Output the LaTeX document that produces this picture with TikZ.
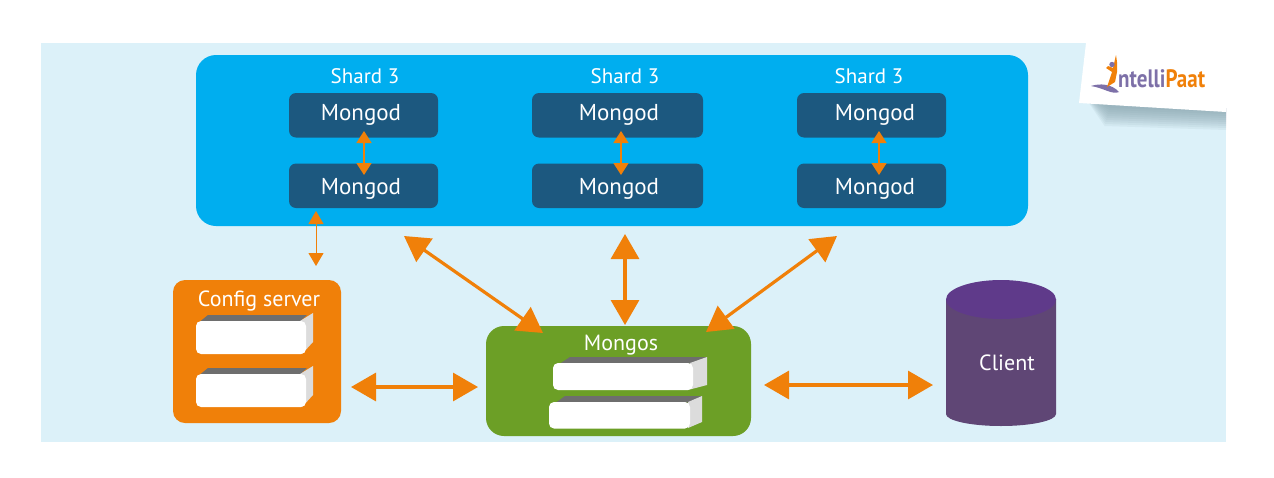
\documentclass[tikz,border=0pt]{standalone}
\usepackage{fontspec}
\setmainfont{PT Sans}
\usetikzlibrary{arrows.meta,calc}
\definecolor{bgc}{HTML}{DCF1F9}
\definecolor{shardc}{HTML}{00AEEF}
\definecolor{mongodc}{HTML}{1C587F}
\definecolor{orangec}{HTML}{F08009}
\definecolor{greenc}{HTML}{6C9F26}
\definecolor{bodyc}{HTML}{5F4675}
\definecolor{topc}{HTML}{5F3A8A}
\definecolor{logop}{HTML}{7D70A8}
\definecolor{slabtop}{HTML}{6E6E6E}
\definecolor{slabside}{HTML}{DCDCDC}
\definecolor{shadowc}{HTML}{7F9AA5}
\tikzset{
  panel/.style={inner sep=0pt,outer sep=0pt,anchor=north west,rounded corners=#1},
  dbbox/.style={panel=7pt,fill=mongodc,minimum height=44.5pt},
  lbl/.style={text=white,font=\fontsize{22}{24}\selectfont,inner sep=0pt},
  dblbl/.style={text=white,font=\fontsize{23}{25}\selectfont,inner sep=0pt},
  small arrow/.style={draw=orangec,line width=1.6pt,{Triangle[length=12pt,width=15pt]}-{Triangle[length=12pt,width=15pt]}},
  thin arrow/.style={draw=orangec,line width=1pt,{Triangle[length=13pt,width=15pt]}-{Triangle[length=13pt,width=15pt]}},
  big arrow/.style={draw=orangec,line width=3.2pt,{Triangle[length=25pt,width=28pt]}-{Triangle[length=25pt,width=28pt]}},
  stop/.style={fill=slabtop},
  sside/.style={fill=slabside}
}
\begin{document}
\begin{tikzpicture}[x=1pt,y=-1pt]
\useasboundingbox (0,0) rectangle (1274,477);
\fill[white] (0,0) rectangle (1274,477);
\fill[bgc] (41,43) rectangle (1226,442);
% logo card with soft shadow
\foreach \d in {2,4,...,20}{
  \fill[shadowc,opacity=0.1] (1086+\d*0.4,100) -- (1226,108) -- (1226,132-\d) -- (1104+\d*0.3,128-\d) -- cycle;
}
\fill[white] (1086,43) -- (1079,103) -- (1226,112) -- (1226,43) -- cycle;
\fill[logop] (1091,86) .. controls (1100,83) and (1112,84) .. (1119,92) .. controls (1112,95) and (1104,88) .. (1091,86) -- cycle;
\fill[orangec] (1116,55) -- (1117,62) -- (1117,72) -- (1115,82) -- (1107,87) -- (1110,78) -- (1112,72) -- (1106,68) -- (1108,66) -- (1113,68) -- cycle;
\fill[logop] (1112,64.5) circle (2.7pt);
\node[inner sep=0pt,anchor=base west,font=\fontsize{21}{24}\bfseries\selectfont] (logo) at (1118,87) {\scalebox{1}[1.2]{\textcolor{logop}{ntelli}\textcolor{orangec}{Paat}}};
% shards
\node[panel=20pt,fill=shardc,minimum width=832pt,minimum height=171pt] (shard) at (196,55) {};
\foreach \n/\x/\w/\tx/\lx/\ax in {a/289/149/361/365/364, b/532/171/619/625/621, c/797/149/875/869/879}{
  \node[lbl,font=\fontsize{21}{24}\selectfont] (shard\n) at (\lx,76) {Shard 3};
  \node[dbbox,minimum width=\w pt] (top\n) at (\x,93) {};
  \node[dbbox,minimum width=\w pt] (bot\n) at (\x,163.5) {};
  \node[dblbl] (toplbl\n) at (\tx,115) {Mongod};
  \node[dblbl] (botlbl\n) at (\tx,189) {Mongod};
  \coordinate (up\n) at (\ax,131);
  \coordinate (dn\n) at (\ax,175);
  \draw[small arrow] (up\n) -- (dn\n);
}
% config server
\node[panel=12pt,fill=orangec,minimum width=168pt,minimum height=143pt] (config) at (173,280) {};
\node[lbl] (configlbl) at (259,301) {Config server};
\foreach \n/\d in {p/0,q/53}{
  \begin{scope}[yshift=-\d pt]
    \fill[stop] (200,321.5) -- (208,315) -- (307,315) -- (300,321.5) -- cycle;
    \fill[sside] (300,321) -- (313,313) -- (313,342) -- (302,354) -- cycle;
    \node[panel=5pt,fill=white,minimum width=110pt,minimum height=33pt] (cfg\n) at (196,321) {};
  \end{scope}
}
% mongos
\node[panel=18pt,fill=greenc,minimum width=265pt,minimum height=110pt] (mongos) at (486,326) {};
\node[lbl] (mongoslbl) at (621,345) {Mongos};
\fill[stop] (560,363.5) -- (570,357) -- (707,357) -- (690,363.5) -- cycle;
\fill[sside] (690,363) -- (707,357) -- (707,385) -- (688,390) -- cycle;
\node[panel=5pt,fill=white,minimum width=140pt,minimum height=27pt] (msa) at (553,363) {};
\fill[stop] (556,402.5) -- (565,396) -- (702,396) -- (688,402.5) -- cycle;
\fill[sside] (688,402) -- (702,396) -- (702,422) -- (688,428) -- cycle;
\node[panel=5pt,fill=white,minimum width=141pt,minimum height=26.5pt] (msb) at (549,402) {};
% client cylinder
\fill[bodyc] (946,299) -- (946,414) arc[start angle=180,end angle=360,x radius=55pt,y radius=12pt] -- (1056,299) -- cycle;
\fill[topc] (1001,299.5) ellipse[x radius=55pt,y radius=19.5pt];
\node[lbl] (client) at (1007,363) {Client};
% connectors
\coordinate (cs1) at (316,211);
\coordinate (cs2) at (316,266);
\draw[thin arrow] (cs1) -- (cs2);
\coordinate (l1) at (404,236);
\coordinate (l2) at (543,333);
\draw[big arrow] (l1) -- (l2);
\coordinate (m1) at (625,234);
\coordinate (m2) at (625,325);
\draw[big arrow] (m1) -- (m2);
\coordinate (r1) at (837,236);
\coordinate (r2) at (706,332);
\draw[big arrow] (r1) -- (r2);
\coordinate (h1) at (351,387);
\coordinate (h2) at (478,387);
\draw[big arrow] (h1) -- (h2);
\coordinate (k1) at (764,385);
\coordinate (k2) at (933,385);
\draw[big arrow] (k1) -- (k2);
\end{tikzpicture}
\end{document}
